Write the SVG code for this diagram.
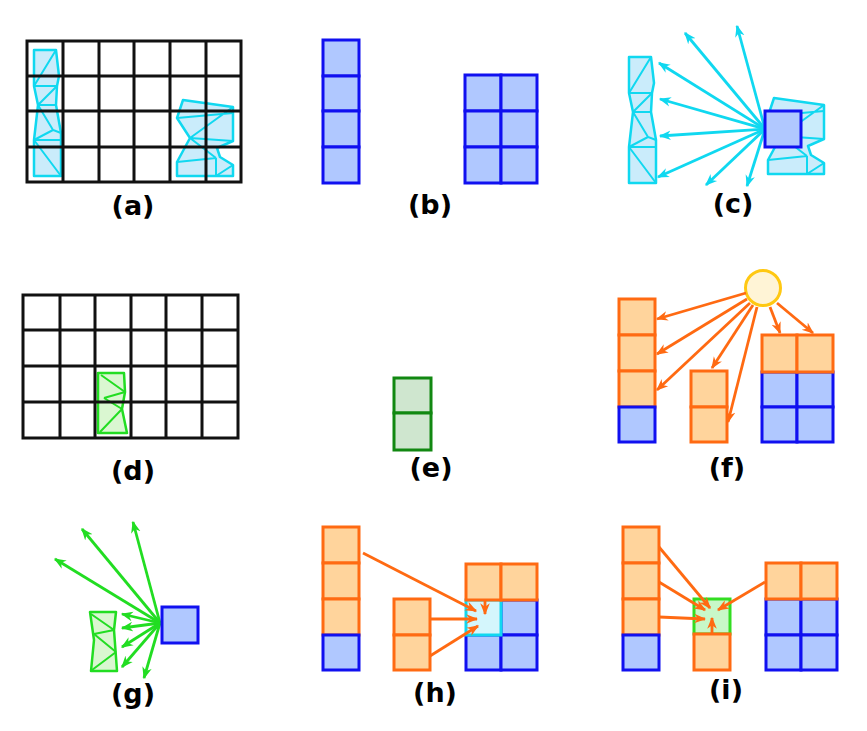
<svg xmlns="http://www.w3.org/2000/svg" width="867" height="731" viewBox="0 0 867 731">
<style>
.grid{fill:none;stroke:#111;stroke-width:3}
.blue{fill:#b0c8ff;stroke:#1010f0;stroke-width:3}
.orange{fill:#ffd49c;stroke:#ff6a12;stroke-width:3}
.cyanc{fill:#d4f6fc;stroke:#10d8f0;stroke-width:3}
.greenc{fill:#c8f8c8;stroke:#33dd22;stroke-width:3}
.eg{fill:#cfe6cf;stroke:#118811;stroke-width:3}
.cy{fill:#b8e6fa;fill-opacity:0.75;stroke:#10d8f0;stroke-width:2.5;stroke-linejoin:round}
.cyl{fill:none;stroke:#10d8f0;stroke-width:2}
.gr{fill:#d6f6cc;fill-opacity:0.9;stroke:#22dd22;stroke-width:2.5;stroke-linejoin:round}
.grl{fill:none;stroke:#22dd22;stroke-width:2}
.ac{stroke:#10d8f0;stroke-width:2.8;fill:none;marker-end:url(#mc)}
.ag{stroke:#22dd22;stroke-width:2.8;fill:none;marker-end:url(#mg)}
.ao{stroke:#ff6a12;stroke-width:2.8;fill:none;marker-end:url(#mo)}
.lbl{font-family:"DejaVu Sans",sans-serif;font-weight:bold;font-size:27px;fill:#000;text-anchor:middle}
</style>
<defs>
<marker id="mc" viewBox="0 0 10 10" refX="9" refY="5" markerWidth="12" markerHeight="12" markerUnits="userSpaceOnUse" orient="auto"><path d="M0,1 L10,5 L0,9 L3,5 z" fill="#10d8f0"/></marker>
<marker id="mg" viewBox="0 0 10 10" refX="9" refY="5" markerWidth="12" markerHeight="12" markerUnits="userSpaceOnUse" orient="auto"><path d="M0,1 L10,5 L0,9 L3,5 z" fill="#22dd22"/></marker>
<marker id="mo" viewBox="0 0 10 10" refX="9" refY="5" markerWidth="12" markerHeight="12" markerUnits="userSpaceOnUse" orient="auto"><path d="M0,1 L10,5 L0,9 L3,5 z" fill="#ff6a12"/></marker>
<g id="strip">
<polygon class="cy" points="34,50 56,50 59,76 57,86 56,105 61,133 61,176 34,176 34,140 38,105 34,86"/>
<path class="cyl" d="M56,50 L34,86 M34,86 L57,86 M38,105 L57,86 M38,105 L56,105 M38,105 L53,130 L61,133 M34,140 L53,130 M34,140 L61,140 M34,140 L61,176"/>
</g>
<g id="blob">
<polygon class="cy" points="183,100 233,107 233,141 217,148 220,157 233,165 233,176 177,176 177,162 190,138 177,118"/>
<path class="cyl" d="M177,118 L233,113 M190,138 L233,107 M190,138 L233,141 M190,138 L216,158 M177,162 L216,158 M216,158 L216,176 M216,176 L233,165"/>
</g>
</defs>

<g id="panel-a">
<use href="#strip"/>
<use href="#blob"/>
<rect class="grid" x="27" y="41" width="214" height="141"/>
<path class="grid" d="M63,41V182 M99,41V182 M134,41V182 M170,41V182 M206,41V182 M27,76H241 M27,111H241 M27,147H241"/>
<text class="lbl" x="133" y="215">(a)</text>
</g>

<g id="panel-b">
<rect class="blue" x="323" y="40" width="36" height="36"/>
<rect class="blue" x="323" y="76" width="36" height="35"/>
<rect class="blue" x="323" y="111" width="36" height="36"/>
<rect class="blue" x="323" y="147" width="36" height="36"/>
<rect class="blue" x="465" y="75" width="36" height="36"/>
<rect class="blue" x="501" y="75" width="36" height="36"/>
<rect class="blue" x="465" y="111" width="36" height="36"/>
<rect class="blue" x="501" y="111" width="36" height="36"/>
<rect class="blue" x="465" y="147" width="36" height="36"/>
<rect class="blue" x="501" y="147" width="36" height="36"/>
<text class="lbl" x="430" y="214">(b)</text>
</g>

<g id="panel-c">
<use href="#strip" transform="translate(595,7)"/>
<use href="#blob" transform="translate(591,-2)"/>
<g id="c-arrows">
<line class="ac" x1="765" y1="129" x2="685" y2="33"/>
<line class="ac" x1="765" y1="129" x2="737" y2="26"/>
<line class="ac" x1="765" y1="129" x2="659" y2="63"/>
<line class="ac" x1="765" y1="129" x2="660" y2="99"/>
<line class="ac" x1="765" y1="129" x2="660" y2="136"/>
<line class="ac" x1="765" y1="129" x2="658" y2="177"/>
<line class="ac" x1="765" y1="129" x2="706" y2="185"/>
<line class="ac" x1="765" y1="129" x2="747" y2="186"/>
</g>
<rect class="blue" x="765" y="111" width="36" height="36"/>
<text class="lbl" x="733" y="213">(c)</text>
</g>

<g id="panel-d">
<polygon class="gr" points="98,373 124,373 125,392 122,409 127,433 98,433 98,400"/>
<path class="grl" d="M101,375 L125,392 M104,398 L125,392 M104,398 L122,409 M100,432 L122,409"/>
<rect class="grid" x="23" y="295" width="215" height="143"/>
<path class="grid" d="M60,295V438 M95,295V438 M131,295V438 M166,295V438 M202,295V438 M23,330H238 M23,366H238 M23,402H238"/>
<text class="lbl" x="133" y="480">(d)</text>
</g>

<g id="panel-e">
<rect class="eg" x="394" y="378" width="37" height="35"/>
<rect class="eg" x="394" y="413" width="37" height="37"/>
<text class="lbl" x="431" y="477">(e)</text>
</g>

<g id="panel-f">
<rect class="orange" x="619" y="299" width="36" height="36"/>
<rect class="orange" x="619" y="335" width="36" height="36"/>
<rect class="orange" x="619" y="371" width="36" height="36"/>
<rect class="blue" x="619" y="407" width="36" height="35"/>
<rect class="orange" x="691" y="371" width="36" height="36"/>
<rect class="orange" x="691" y="407" width="36" height="35"/>
<rect class="blue" x="762" y="372" width="35" height="35"/>
<rect class="blue" x="797" y="372" width="36" height="35"/>
<rect class="blue" x="762" y="407" width="35" height="35"/>
<rect class="blue" x="797" y="407" width="36" height="35"/>
<rect class="orange" x="762" y="335" width="35" height="37"/>
<rect class="orange" x="797" y="335" width="36" height="37"/>
<circle cx="763" cy="288" r="17.5" fill="#fff4d6" stroke="#ffc812" stroke-width="3"/>
<g id="f-arrows">
<line class="ao" x1="746" y1="293" x2="657" y2="319"/>
<line class="ao" x1="747" y1="299" x2="657" y2="354"/>
<line class="ao" x1="750" y1="303" x2="657" y2="390"/>
<line class="ao" x1="753" y1="305" x2="712" y2="368"/>
<line class="ao" x1="757" y1="307" x2="728" y2="422"/>
<line class="ao" x1="770" y1="307" x2="780" y2="333"/>
<line class="ao" x1="777" y1="303" x2="813" y2="333"/>
</g>
<text class="lbl" x="727" y="477">(f)</text>
</g>

<g id="panel-g">
<polygon class="gr" points="90,612 116,612 114,630 117,671 91,671 94,640"/>
<path class="grl" d="M91,614 L114,630 M94,634 L114,630 M94,634 L116,652 M92,670 L116,652"/>
<g id="g-arrows">
<line class="ag" x1="160" y1="623" x2="55" y2="559"/>
<line class="ag" x1="160" y1="623" x2="82" y2="529"/>
<line class="ag" x1="160" y1="623" x2="133" y2="522"/>
<line class="ag" x1="160" y1="623" x2="122" y2="614"/>
<line class="ag" x1="160" y1="623" x2="122" y2="628"/>
<line class="ag" x1="160" y1="623" x2="122" y2="647"/>
<line class="ag" x1="160" y1="623" x2="122" y2="667"/>
<line class="ag" x1="160" y1="623" x2="144" y2="678"/>
</g>
<rect class="blue" x="162" y="607" width="36" height="36"/>
<text class="lbl" x="133" y="703">(g)</text>
</g>

<g id="panel-h">
<rect class="orange" x="323" y="527" width="36" height="36"/>
<rect class="orange" x="323" y="563" width="36" height="36"/>
<rect class="orange" x="323" y="599" width="36" height="36"/>
<rect class="blue" x="323" y="635" width="36" height="35"/>
<rect class="orange" x="394" y="599" width="36" height="36"/>
<rect class="orange" x="394" y="635" width="36" height="35"/>
<rect class="blue" x="501" y="600" width="36" height="35"/>
<rect class="blue" x="466" y="635" width="35" height="35"/>
<rect class="blue" x="501" y="635" width="36" height="35"/>
<rect class="cyanc" x="466" y="600" width="35" height="35"/>
<rect class="orange" x="466" y="564" width="35" height="36"/>
<rect class="orange" x="501" y="564" width="36" height="36"/>
<g id="h-arrows">
<line class="ao" x1="363" y1="553" x2="476" y2="611"/>
<line class="ao" x1="430" y1="619" x2="477" y2="619"/>
<line class="ao" x1="430" y1="656" x2="478" y2="626"/>
<line class="ao" x1="485" y1="600" x2="485" y2="614"/>
</g>
<text class="lbl" x="435" y="702">(h)</text>
</g>

<g id="panel-i">
<rect class="orange" x="623" y="527" width="36" height="36"/>
<rect class="orange" x="623" y="563" width="36" height="36"/>
<rect class="orange" x="623" y="599" width="36" height="36"/>
<rect class="blue" x="623" y="635" width="36" height="35"/>
<rect class="greenc" x="694" y="599" width="36" height="35"/>
<rect class="orange" x="694" y="634" width="36" height="36"/>
<rect class="blue" x="766" y="599" width="35" height="36"/>
<rect class="blue" x="801" y="599" width="36" height="36"/>
<rect class="blue" x="766" y="635" width="35" height="35"/>
<rect class="blue" x="801" y="635" width="36" height="35"/>
<rect class="orange" x="766" y="563" width="35" height="36"/>
<rect class="orange" x="801" y="563" width="36" height="36"/>
<g id="i-arrows">
<line class="ao" x1="659" y1="547" x2="710" y2="608"/>
<line class="ao" x1="659" y1="582" x2="705" y2="610"/>
<line class="ao" x1="659" y1="617" x2="705" y2="619"/>
<line class="ao" x1="712" y1="634" x2="712" y2="618"/>
<line class="ao" x1="765" y1="582" x2="718" y2="610"/>
</g>
<text class="lbl" x="726" y="699">(i)</text>
</g>
</svg>
